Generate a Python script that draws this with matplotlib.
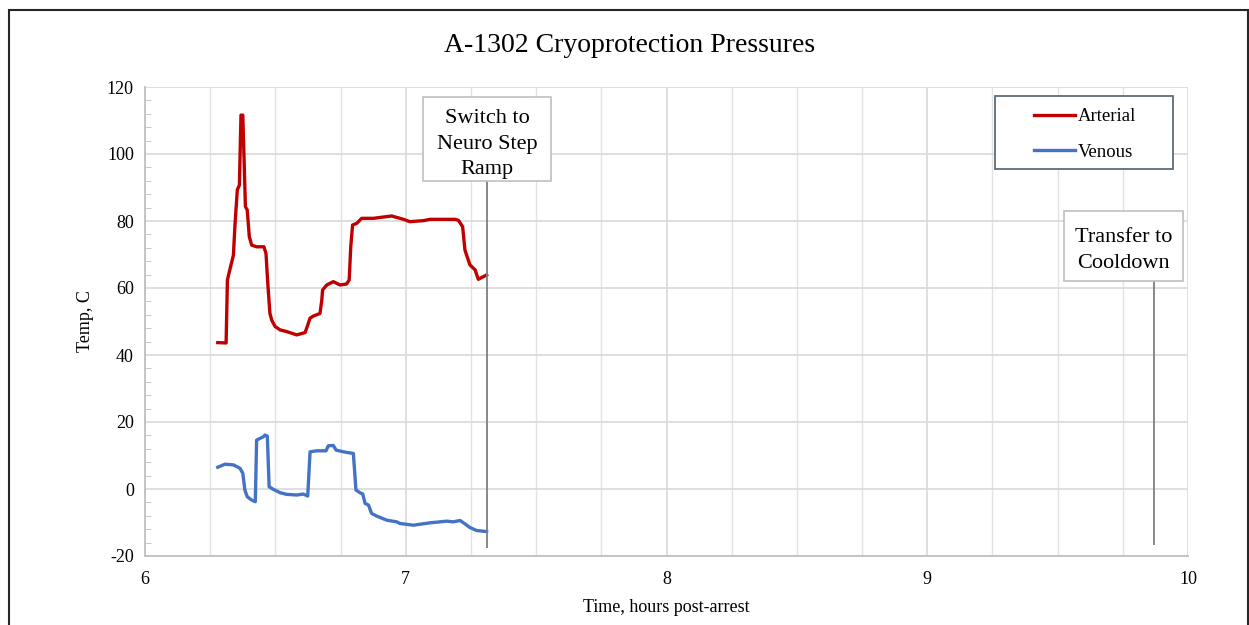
import matplotlib.pyplot as plt
from matplotlib.patches import Rectangle
from matplotlib.ticker import MultipleLocator

plt.rcParams['font.family'] = ['Liberation Serif', 'DejaVu Serif']
plt.rcParams['axes.unicode_minus'] = False

# arterial pressure trace
art_t = [6.279, 6.311, 6.316, 6.322, 6.339, 6.345, 6.354, 6.362, 6.368, 6.375,
         6.380, 6.385, 6.392, 6.400, 6.409, 6.428, 6.456, 6.464, 6.470, 6.479,
         6.486, 6.499, 6.518, 6.543, 6.582, 6.614, 6.620, 6.633, 6.645, 6.671,
         6.678, 6.681, 6.697, 6.722, 6.748, 6.773, 6.783, 6.789, 6.796, 6.812,
         6.831, 6.876, 6.946, 6.991, 7.016, 7.067, 7.093, 7.189, 7.202, 7.218,
         7.227, 7.246, 7.266, 7.278, 7.298, 7.310]
art_p = [43.7, 43.6, 62.4, 64.4, 69.8, 78.8, 89.3, 90.7, 111.6, 111.6,
         98.2, 84.3, 83.3, 75.3, 72.8, 72.3, 72.3, 70.3, 62.4, 52.4,
         50.4, 48.5, 47.5, 47.0, 46.0, 46.7, 48.0, 51.0, 51.6, 52.4,
         56.4, 59.4, 60.9, 61.9, 60.9, 61.2, 62.4, 72.3, 78.8, 79.3,
         80.8, 80.8, 81.5, 80.5, 79.8, 80.1, 80.5, 80.5, 80.2, 78.3,
         71.3, 66.9, 65.4, 62.6, 63.4, 63.9]

# venous pressure trace
ven_t = [6.279, 6.307, 6.339, 6.364, 6.375, 6.383, 6.392, 6.409, 6.423, 6.428,
         6.441, 6.454, 6.460, 6.469, 6.476, 6.492, 6.518, 6.543, 6.582, 6.607,
         6.624, 6.633, 6.658, 6.694, 6.703, 6.722, 6.733, 6.761, 6.799, 6.809,
         6.824, 6.835, 6.844, 6.857, 6.869, 6.889, 6.927, 6.965, 6.978, 7.029,
         7.093, 7.157, 7.182, 7.208, 7.227, 7.246, 7.272, 7.310]
ven_p = [6.5, 7.4, 7.2, 6.2, 4.7, -0.3, -2.3, -3.3, -3.8, 14.6,
         15.1, 15.6, 16.1, 15.8, 0.7, -0.1, -1.1, -1.6, -1.8, -1.5,
         -2.1, 11.1, 11.4, 11.4, 12.9, 13.0, 11.6, 11.1, 10.6, -0.3,
         -1.1, -1.5, -4.3, -4.8, -7.3, -8.1, -9.3, -9.8, -10.3, -10.8,
         -10.1, -9.6, -9.8, -9.4, -10.4, -11.5, -12.4, -12.7]

# procedure events
event_t = [7.31, 9.87]
event_labels = ['Switch to\nNeuro Step\nRamp', 'Transfer to\nCooldown']

fig = plt.figure(figsize=(12.49, 6.25), dpi=100)
ax = fig.add_axes([0.1161, 0.1104, 0.8351, 0.7504])

ax.plot(art_t, art_p, color='#c00000', lw=2.4, label='Arterial')
ax.plot(ven_t, ven_p, color='#4472c4', lw=2.4, label='Venous')

# event markers: thin line dropping from a boxed label
ax.vlines(event_t[0], -17.6, 92, color='#7f7f7f', lw=1.3, zorder=3)
ax.vlines(event_t[1], -16.7, 62, color='#7f7f7f', lw=1.3, zorder=3)
ax.add_patch(Rectangle((7.066, 91.9), 0.491, 25.1, fc='white', ec='#bfbfbf',
                       lw=1.2, zorder=4))
ax.add_patch(Rectangle((9.524, 62.1), 0.457, 20.9, fc='white', ec='#bfbfbf',
                       lw=1.2, zorder=4))
ax.text(7.312, 102.9, event_labels[0], ha='center', va='center',
        fontsize=16, linespacing=1.45, zorder=5)
ax.text(9.752, 71.2, event_labels[1], ha='center', va='center',
        fontsize=16, linespacing=1.45, zorder=5)

ax.set_xlim(6, 10)
ax.set_ylim(-20, 120)
ax.xaxis.set_major_locator(MultipleLocator(1))
ax.xaxis.set_minor_locator(MultipleLocator(0.25))
ax.yaxis.set_major_locator(MultipleLocator(20))
ax.yaxis.set_minor_locator(MultipleLocator(4))
ax.grid(which='major', axis='both', color='#d9d9d9', lw=1.2)
ax.grid(which='minor', axis='x', color='#e3e3e3', lw=1.0)
ax.tick_params(axis='x', which='major', length=0, labelsize=13, pad=11)
ax.tick_params(axis='y', which='major', length=0, labelsize=13, pad=8)
ax.tick_params(axis='x', which='minor', length=0)
ax.tick_params(axis='y', which='minor', direction='in', length=4,
               color='#bfbfbf')
for s in ['top', 'right']:
    ax.spines[s].set_visible(False)
for s in ['left', 'bottom']:
    ax.spines[s].set_color('#bfbfbf')
    ax.spines[s].set_linewidth(1.3)

ax.set_xlabel('Time, hours post-arrest', fontsize=13, labelpad=8)
ax.set_ylabel('Temp, C', fontsize=13, labelpad=9)

# legend with its own frame
ax.add_patch(Rectangle((0.815, 0.825), 0.1707, 0.1557, transform=ax.transAxes,
                       fc='white', ec='#5f6b7a', lw=1.3, zorder=6))
leg = ax.legend(loc='upper left', bbox_to_anchor=(0.8524, 0.955),
                fontsize=13.5, frameon=False, handlelength=2.2,
                handletextpad=0.15, labelspacing=0.98, borderpad=0,
                borderaxespad=0)
leg.set_zorder(7)

fig.text(0.504, 0.928, 'A-1302 Cryoprotection Pressures', ha='center',
         va='center', fontsize=20)

# outer frame around the chart
fig.patches.append(Rectangle((9 / 1249, -0.05), 1239 / 1249, 0.05 + 615 / 625,
                             transform=fig.transFigure, fill=False,
                             ec='#262626', lw=1.5))

fig.savefig('out.png', dpi=100)
